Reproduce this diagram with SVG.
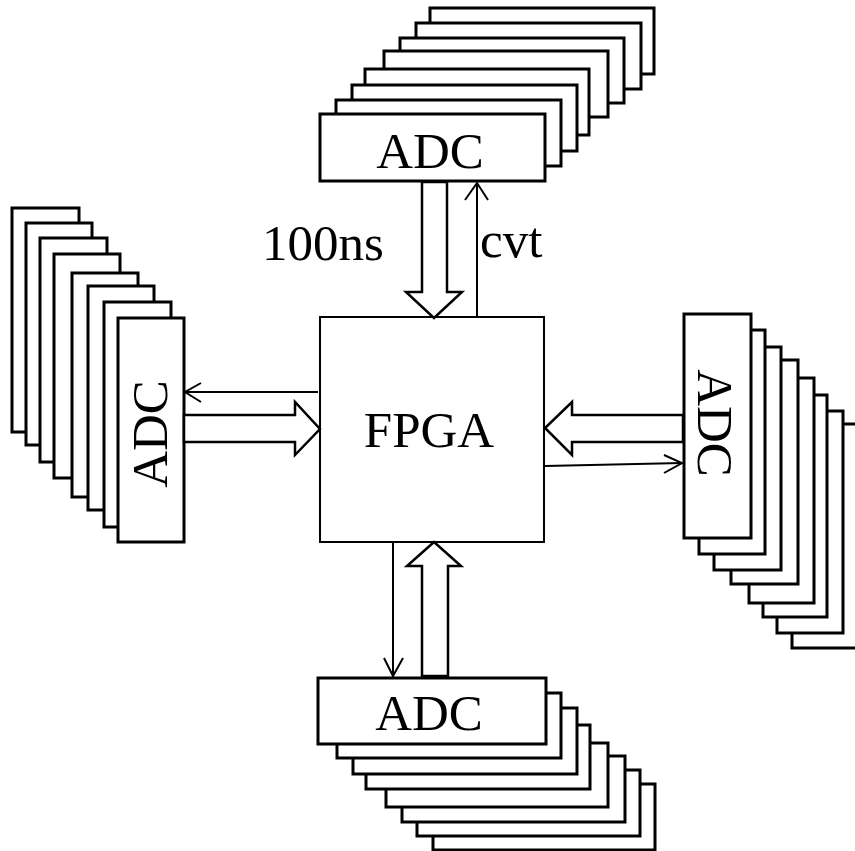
<svg xmlns="http://www.w3.org/2000/svg" width="855" height="851" viewBox="0 0 855 851">
<style>
.adc{fill:#fff;stroke:#000;stroke-width:3}
.fpga{fill:#fff;stroke:#000;stroke-width:2}
.big{fill:#fff;stroke:#000;stroke-width:2.5;stroke-linejoin:miter}
.thin{fill:none;stroke:#000;stroke-width:2}
.t{font-family:"Liberation Serif","Times New Roman",serif;font-size:51px;fill:#000}
</style>
<rect width="855" height="851" fill="#fff"/>
<g id="adc-top">
<rect class="adc" x="430" y="8" width="224" height="66"/>
<rect class="adc" x="416" y="23" width="225" height="66"/>
<rect class="adc" x="400" y="38" width="224" height="65"/>
<rect class="adc" x="384" y="51" width="224" height="66"/>
<rect class="adc" x="365" y="69" width="224" height="66"/>
<rect class="adc" x="352" y="85" width="225" height="66"/>
<rect class="adc" x="336" y="100" width="225" height="66"/>
<rect class="adc" x="320" y="114" width="225" height="67"/>
<text class="t" x="430" y="168" text-anchor="middle">ADC</text>
</g>
<g id="adc-left">
<rect class="adc" x="12" y="208" width="67" height="224"/>
<rect class="adc" x="26" y="223" width="66" height="222"/>
<rect class="adc" x="40" y="238" width="67" height="224"/>
<rect class="adc" x="54" y="254" width="66" height="224"/>
<rect class="adc" x="72" y="273" width="66" height="224"/>
<rect class="adc" x="88" y="286" width="66" height="224"/>
<rect class="adc" x="104" y="302" width="67" height="225"/>
<rect class="adc" x="118" y="318" width="66" height="224"/>
<text class="t" transform="translate(167,434) rotate(-90)" text-anchor="middle">ADC</text>
</g>
<g id="adc-right">
<rect class="adc" x="792" y="424" width="67" height="224"/>
<rect class="adc" x="777" y="411" width="66" height="222"/>
<rect class="adc" x="763" y="395" width="64" height="222"/>
<rect class="adc" x="749" y="378" width="65" height="225"/>
<rect class="adc" x="731" y="360" width="67" height="224"/>
<rect class="adc" x="714" y="347" width="67" height="223"/>
<rect class="adc" x="699" y="330" width="66" height="224"/>
<rect class="adc" x="684" y="314" width="67" height="224"/>
<text class="t" transform="translate(698,423) rotate(90)" text-anchor="middle">ADC</text>
</g>
<g id="adc-bottom">
<rect class="adc" x="433" y="784" width="222" height="66"/>
<rect class="adc" x="417" y="770" width="223" height="66"/>
<rect class="adc" x="402" y="756" width="223" height="66"/>
<rect class="adc" x="386" y="743" width="222" height="64"/>
<rect class="adc" x="366" y="725" width="224" height="64"/>
<rect class="adc" x="353" y="708" width="224" height="66"/>
<rect class="adc" x="337" y="693" width="224" height="65"/>
<rect class="adc" x="318" y="678" width="228" height="66"/>
<text class="t" x="429" y="730" text-anchor="middle">ADC</text>
</g>
<g id="fpga">
<rect class="fpga" x="320" y="317" width="224" height="225"/>
<text class="t" x="429" y="447" text-anchor="middle">FPGA</text>
</g>
<g id="connectors">
<polygon class="big" points="422,182 447,182 447,292 462,292 434,318 406,292 422,292"/>
<polygon class="big" points="184,415 295,415 295,402 320,429 295,455 295,442 184,442"/>
<polygon class="big" points="683,415 572,415 572,402 545,428 572,455 572,442 683,442"/>
<polygon class="big" points="422,676 422,566 407,566 434,542 461,566 448,566 448,676"/>
<line class="thin" x1="477" y1="317" x2="477" y2="183"/>
<polyline class="thin" points="465,200 477,183 488,200"/>
<line class="thin" x1="318" y1="392" x2="185" y2="392"/>
<polyline class="thin" points="201,383 185,392 201,402"/>
<line class="thin" x1="545" y1="466" x2="682" y2="463"/>
<polyline class="thin" points="664,455 682,463 664,473"/>
<line class="thin" x1="393" y1="542" x2="393" y2="676"/>
<polyline class="thin" points="384,658 393,676 403,658"/>
</g>
<text class="t" x="262" y="260">100ns</text>
<text class="t" x="480" y="257">cvt</text>
</svg>
